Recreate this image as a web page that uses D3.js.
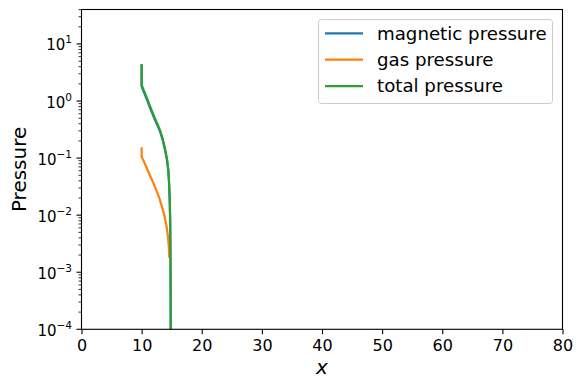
<!DOCTYPE html>
<html>
<head>
<meta charset="utf-8">
<script src="https://cdn.jsdelivr.net/npm/d3@7"></script>
<style>
  body { margin: 0; background: #fff; }
  text { font-family: "DejaVu Sans", sans-serif; fill: #000; }
</style>
</head>
<body>
<svg id="chart"></svg>
<script>
// valeurs
const xTotal = [10, 10, 10.5, 11.0, 11.4, 12.2, 12.7, 13.05, 13.5, 13.9, 14.2, 14.44, 14.58, 14.68, 14.75, 14.79, 14.82, 14.84, 14.86]
const totalPressure = [4.27, 1.91, 1.41, 1.05, 0.81, 0.50, 0.38, 0.31, 0.219, 0.145, 0.100, 0.063, 0.0355, 0.0178, 0.0079, 0.0025, 0.0005, 0.0001, 0.000001]
const xMagnetic = [10, 10, 10.5, 11.0, 11.4, 12.2, 12.7, 13.05, 13.5, 13.9, 14.2, 14.44, 14.58, 14.68, 14.75, 14.79, 14.82, 14.84, 14.86]
const magneticPressure = [4.12, 1.80, 1.33, 0.99, 0.76, 0.47, 0.36, 0.294, 0.208, 0.137, 0.094, 0.059, 0.033, 0.0165, 0.0079, 0.0025, 0.0005, 0.0001, 0.000001]
const xGas = [10, 10, 10.3, 10.8, 11.4, 12.0, 12.5, 13.0, 13.4, 13.8, 14.1, 14.35, 14.5, 14.61]
const gasPressure = [0.148, 0.105, 0.091, 0.069, 0.049, 0.0355, 0.0263, 0.0191, 0.0138, 0.0098, 0.0068, 0.00447, 0.0030, 0.00186]

const xTicks = [0, 10, 20, 30, 40, 50, 60, 70, 80]
const yTicks = [-4, -3, -2, -1, 0, 1]   // exposants
const seriesNames = ['magnetic pressure', 'gas pressure', 'total pressure']
const colors = ['#1f77b4', '#ff7f0e', '#2ca02c']

const width = 582, height = 390
const margin = {top: 9.5, right: 19.5, bottom: 60.7, left: 81.5}

const svg = d3.select('#chart').attr('width', width).attr('height', height)

const xScale = d3.scaleLinear().domain([0, 80]).range([margin.left, width - margin.right])
const yScale = d3.scaleLog().domain([1e-4, 40.2]).range([height - margin.bottom, margin.top])

// zone de clip
svg.append('clipPath').attr('id', 'clip')
   .append('rect')
   .attr('x', margin.left).attr('y', margin.top)
   .attr('width', width - margin.left - margin.right)
   .attr('height', height - margin.top - margin.bottom)

const line = d3.line()
   .x(d => xScale(d[0]))
   .y(d => yScale(d[1]))

const series = [
  d3.zip(xMagnetic, magneticPressure),
  d3.zip(xGas, gasPressure),
  d3.zip(xTotal, totalPressure)
]

const plot = svg.append('g').attr('clip-path', 'url(#clip)')
series.forEach((s, i) => {
  plot.append('path')
      .datum(s)
      .attr('d', line)
      .attr('fill', 'none')
      .attr('stroke', colors[i])
      .attr('stroke-width', 2.2)
      .attr('stroke-linejoin', 'round')
      .attr('stroke-linecap', 'square')
})

// axe x
const xAxis = d3.axisBottom(xScale).tickValues(xTicks).tickSize(5).tickPadding(5)
const gx = svg.append('g')
   .attr('transform', 'translate(0,' + (height - margin.bottom) + ')')
   .call(xAxis)
gx.select('.domain').remove()
gx.selectAll('line').attr('stroke', '#000').attr('stroke-width', 1.1)
gx.selectAll('text').style('font-size', '16px').attr('font-family', 'DejaVu Sans')

// axe y (log) : graduations majeures et mineures
const minorValues = []
for (let e = -4; e <= 1; e++) {
  for (let k = 2; k <= 9; k++) {
    const v = k * Math.pow(10, e)
    if (v <= 40.2) minorValues.push(v)
  }
}
const gy = svg.append('g').attr('transform', 'translate(' + margin.left + ',0)')
gy.selectAll('.minor')
  .data(minorValues)
  .enter()
  .append('line')
  .attr('x1', -3).attr('x2', 0)
  .attr('y1', d => yScale(d)).attr('y2', d => yScale(d))
  .attr('stroke', '#000').attr('stroke-width', 0.8)

const major = gy.selectAll('.major')
  .data(yTicks)
  .enter()
  .append('g')
  .attr('transform', d => 'translate(0,' + yScale(Math.pow(10, d)) + ')')
major.append('line').attr('x1', -5).attr('x2', 0).attr('stroke', '#000').attr('stroke-width', 1.1)
const lbl = major.append('text')
  .attr('text-anchor', 'end')
  .attr('x', -9.5)
  .attr('y', 6.5)
  .style('font-size', '15px')
lbl.append('tspan').text('10')
lbl.append('tspan')
   .attr('dy', -7)
   .style('font-size', '10.5px')
   .text(d => d < 0 ? '\u2212' + Math.abs(d) : String(d))

// cadre
svg.append('rect')
   .attr('x', margin.left).attr('y', margin.top)
   .attr('width', width - margin.left - margin.right)
   .attr('height', height - margin.top - margin.bottom)
   .attr('fill', 'none').attr('stroke', '#000').attr('stroke-width', 1.1)

// titres des axes
svg.append('text')
   .attr('transform', 'rotate(-90)')
   .attr('x', -(margin.top + height - margin.bottom) / 2)
   .attr('y', 26)
   .attr('text-anchor', 'middle')
   .style('font-size', '20px')
   .text('Pressure')

svg.append('text')
   .attr('x', (margin.left + width - margin.right) / 2)
   .attr('y', 374)
   .attr('text-anchor', 'middle')
   .style('font-size', '20px')
   .style('font-style', 'italic')
   .text('x')

// légende
const legend = svg.append('g')
legend.append('rect')
   .attr('x', 318.5).attr('y', 19.5)
   .attr('width', 234).attr('height', 84)
   .attr('rx', 3)
   .attr('fill', '#fff').attr('fill-opacity', 0.8)
   .attr('stroke', '#cccccc').attr('stroke-width', 1)
seriesNames.forEach((name, i) => {
  const y = 33.3 + i * 26.4
  legend.append('line')
        .attr('x1', 325).attr('x2', 363)
        .attr('y1', y).attr('y2', y)
        .attr('stroke', colors[i]).attr('stroke-width', 2.2)
  legend.append('text')
        .attr('x', 377).attr('y', y + 6.3)
        .style('font-size', '18.2px')
        .text(name)
})
</script>
</body>
</html>
